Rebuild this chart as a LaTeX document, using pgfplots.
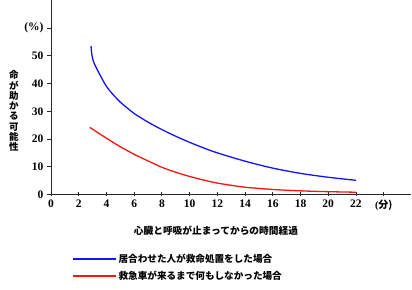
\documentclass[border=0pt]{standalone}
\usepackage{pgfplots}
\pgfplotsset{compat=1.18}
\usepackage{fontspec}
\setmainfont{Liberation Serif}
\newfontfamily\cjk{Noto Sans CJK JP}
\definecolor{axgray}{RGB}{40,40,40}
\definecolor{cblue}{RGB}{20,20,250}
\definecolor{cred}{RGB}{250,20,20}
\begin{document}
\begin{tikzpicture}
\begin{axis}[
  at={(0,0)}, anchor=south west,
  scale only axis,
  width=360.4pt, height=194pt,
  xmin=0, xmax=26, ymin=0, ymax=70,
  axis x line=bottom, axis y line=left,
  axis line style={-, line width=0.9pt, color=axgray},
  xtick={0,2,...,24},
  xticklabels={0,2,4,6,8,10,12,14,16,18,20,22,{\fontsize{10}{10}\selectfont(\cjk 分)}},
  ytick={0,10,...,60},
  yticklabels={0,10,20,30,40,50,(\%)},
  x tick style={line width=0.8pt, color=axgray},
  y tick style={line width=0.8pt, color=axgray},
  xtick align=center, ytick align=outside,
  major tick length=4pt,
  tick label style={font=\fontsize{11.5}{12}\selectfont\bfseries},
  /pgf/number format/assume math mode=true,
  xlabel={心臓と呼吸が止まってからの時間経過},
  every axis x label/.style={at={(axis cs:11.9,0)}, anchor=center, yshift=-36pt, font=\cjk\bfseries\fontsize{9.7}{10}\selectfont},
  ylabel={命\\が\\助\\か\\る\\可\\能\\性},
  every axis y label/.style={at={(axis cs:0,30.1)}, anchor=center, xshift=-37pt, align=center, font=\cjk\bfseries\fontsize{9.5}{10.25}\selectfont},
  legend image code/.code={\draw[line width=1.4pt, #1] (0pt,0pt) -- (43pt,0pt);},
  legend style={at={(axis cs:0,0)}, anchor=north west, xshift=21pt, yshift=-57.5pt,
    draw=none, fill=none, inner sep=0pt, row sep=3pt,
    font=\cjk\bfseries\fontsize{9.6}{10}\selectfont,
    cells={anchor=west},
    /tikz/every even column/.append style={column sep=17pt}},
  clip=false,
]
\addlegendimage{draw=cblue}
\addlegendentry{居合わせた人が救命処置をした場合}
\addlegendimage{draw=cred}
\addlegendentry{救急車が来るまで何もしなかった場合}
\addplot[cblue, line width=1.3pt, smooth, tension=0.5, forget plot] coordinates {
(2.89,53.5)(2.92,51.5)(2.97,49.8)(3.05,48.2)(3.15,46.9)(3.3,45.4)(3.6,42.5)(4.0,39.0)(4.5,35.9)(5.0,33.3)(5.5,31.2)(6.0,29.2)(7.0,26.1)(8.0,23.4)(9,21.0)(10,18.8)(11,16.8)(12,15.0)(14,12.0)(16,9.5)(18,7.6)(20,6.2)(22,5.1)
};
\addplot[cred, line width=1.3pt, smooth, tension=0.5, forget plot] coordinates {
(2.8,24.2)(3.5,21.9)(4,20.3)(5,17.2)(6,14.5)(7,12.1)(8,9.8)(9,8.0)(10,6.5)(11,5.2)(12,4.1)(13,3.3)(14,2.6)(16,1.8)(18,1.3)(20,1.0)(22,0.8)
};
\end{axis}
\path[use as bounding box] (-51pt,-95pt) rectangle (361pt,194pt);
\end{tikzpicture}
\end{document}
